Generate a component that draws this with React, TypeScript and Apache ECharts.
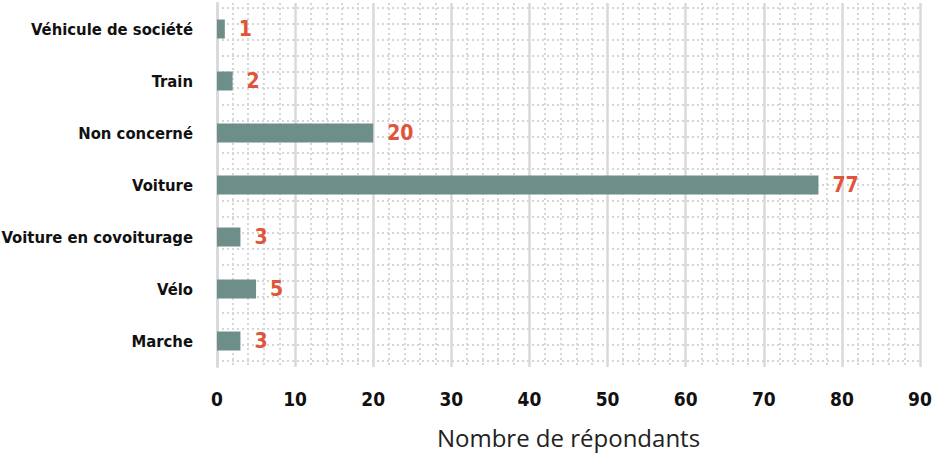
import React, { useEffect, useRef } from "react";
import * as echarts from "echarts";

const categories = [
  "Véhicule de société",
  "Train",
  "Non concerné",
  "Voiture",
  "Voiture en covoiturage",
  "Vélo",
  "Marche",
];
const values = [1, 2, 20, 77, 3, 5, 3];
const xMin = 0;
const xMax = 90;
const xInterval = 10;
const axisTitle = "Nombre de répondants";

const condensed =
  "'Liberation Sans Narrow', 'Arial Narrow', 'DejaVu Sans Condensed', 'DejaVu Sans', sans-serif";

export default function App() {
  const ref = useRef<HTMLDivElement>(null);
  useEffect(() => {
    document.body.style.margin = "0";
    if (!ref.current) return;
    const chart = echarts.init(ref.current, null, { renderer: "svg" });
    const dotted = { color: "#d6d6d6", width: 2, type: [2, 3] };
    chart.setOption({
      animation: false,
      backgroundColor: "#ffffff",
      grid: [
        { left: 217, right: 24, top: 3, bottom: 86, outerBoundsMode: "none", containLabel: false },
        { left: 217, right: 24, top: 8, bottom: 92, outerBoundsMode: "none", containLabel: false },
      ],
      xAxis: [
        {
          type: "value",
          gridIndex: 0,
          min: xMin,
          max: xMax,
          interval: xInterval,
          axisLine: { show: false },
          axisTick: { show: false },
          axisLabel: {
            color: "#111111",
            fontFamily: condensed,
            fontWeight: "bold",
            fontSize: 19,
            margin: 22,
          },
          splitLine: { show: true, lineStyle: { color: "#d9d9d9", width: 2.5 } },
          minorTick: { show: false, splitNumber: 5 },
          minorSplitLine: { show: true, lineStyle: dotted },
          name: axisTitle,
          nameLocation: "middle",
          nameGap: 58,
          nameTextStyle: {
            fontFamily: "'Open Sans', sans-serif",
            fontSize: 24,
            color: "#222222",
          },
        },
        {
          type: "value",
          gridIndex: 1,
          min: 0,
          max: 1,
          show: true,
          axisLine: { show: false },
          axisTick: { show: false },
          axisLabel: { show: false },
          splitLine: { show: false },
        },
      ],
      yAxis: [
        {
          type: "category",
          gridIndex: 0,
          data: categories,
          inverse: true,
          axisLine: { show: true, lineStyle: { color: "#d9d9d9", width: 2.5 } },
          axisTick: { show: false },
          axisLabel: {
            color: "#111111",
            fontFamily: condensed,
            fontWeight: "bold",
            fontSize: 16.5,
            margin: 24,
          },
          splitLine: { show: false },
        },
        {
          type: "value",
          gridIndex: 1,
          min: 0,
          max: 22,
          interval: 1,
          axisLine: { show: false },
          axisTick: { show: false },
          axisLabel: { show: false },
          splitLine: { show: true, lineStyle: dotted },
        },
      ],
      series: [
        {
          type: "bar",
          xAxisIndex: 0,
          yAxisIndex: 0,
          data: values,
          barWidth: 19,
          z: 5,
          itemStyle: { color: "#6e8e8a" },
          label: {
            show: true,
            position: "right",
            distance: 14,
            color: "#e0553a",
            fontFamily: condensed,
            fontWeight: "bold",
            fontSize: 21,
          },
        },
      ],
    });
    return () => chart.dispose();
  }, []);
  return <div ref={ref} style={{ width: 944, height: 453 }} />;
}
